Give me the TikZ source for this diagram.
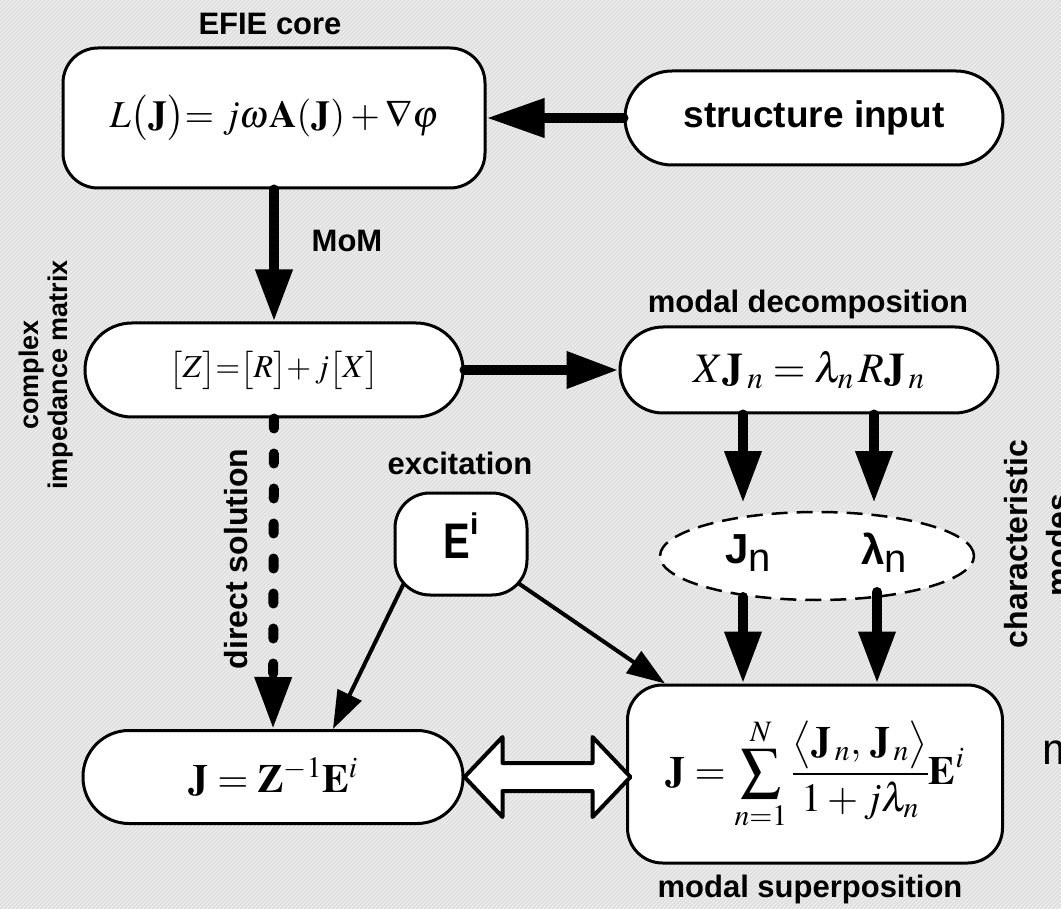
\RequirePackage{fix-cm}
\documentclass[tikz,border=0pt]{standalone}
\usepackage{amsmath}
\usepackage{mathptmx}
\usepackage{fontspec}
\usepackage{graphicx}
\newfontfamily\lsans{Liberation Sans}
\usetikzlibrary{arrows.meta,shapes.geometric,calc}
\pgfdeclarelayer{hatch}
\pgfdeclarelayer{back}
\pgfsetlayers{hatch,back,main}
\definecolor{hatchbg}{HTML}{EFEFEF}
\definecolor{hatchln}{HTML}{DADADA}
\newcommand\myfs[2]{\fontsize{#1}{#2}\selectfont}
\tikzset{
  box/.style={draw, line width=3pt, fill=white, inner sep=0pt},
  fat/.style={line width=10pt, line cap=round, -{Triangle[length=52pt,width=35pt]}},
  thinarr/.style={line width=4pt, -{Triangle[length=38pt,width=26pt]}},
  lbl/.style={font=\lsans\bfseries\myfs{31}{36}, inner sep=0pt},
  rlbl/.style={font=\lsans\bfseries\myfs{27}{31}, inner sep=0pt, rotate=90, anchor=base},
}
\begin{document}
\begin{tikzpicture}[x=1pt,y=-1pt]
\useasboundingbox (0,0) rectangle (1061,909);
\begin{pgfonlayer}{hatch}
  \fill[hatchbg] (0,0) rectangle (1061,909);
  \begin{scope}
    \clip (0,0) rectangle (1061,909);
    \foreach \a in {-912,-908,...,1064}
      \draw[hatchln, line width=1.2pt] (\a,909) -- ({\a+909},0);
  \end{scope}
\end{pgfonlayer}

% boxes
\node[box, rounded corners=35pt, minimum width=422pt, minimum height=140pt] (efie) at (274,118)
  {\myfs{38}{42}$L\bigl(\mathbf{J}\bigr){=}\; j\omega\mathbf{A}(\mathbf{J})+\nabla\varphi$};
\node[box, rounded corners=47pt, minimum width=378pt, minimum height=94pt] (struct) at (814,118)
  {\lsans\bfseries\myfs{37}{42}structure input};
\node[box, rounded corners=47pt, minimum width=378pt, minimum height=94pt] (zmat) at (274,370)
  {\myfs{32}{36}$\bigl[Z\bigr]{=}\bigl[R\bigr]{+}\,j\bigl[X\bigr]$};
\node[box, rounded corners=43pt, minimum width=378pt, minimum height=86pt] (modal) at (809,370)
  {\myfs{42}{46}$X\mathbf{J}_{\,n}=\lambda_n\,R\mathbf{J}_{\,n}$};
\node[box, ellipse, line width=2.5pt, dash pattern=on 16pt off 9pt, minimum width=314pt, minimum height=88pt] (ell) at (817,556) {};
\node[inner sep=0pt] (jn) at (748,553) {\lsans\myfs{42}{46}\textbf{J}\raisebox{-8pt}{\myfs{40}{44}n}};
\node[inner sep=0pt] (lam) at (884,553) {\lsans\myfs{42}{46}\textbf{λ}\raisebox{-8pt}{\myfs{40}{44}n}};
\node[box, rounded corners=35pt, minimum width=375pt, minimum height=178pt] (sup) at (815,774)
  {\myfs{40}{44}$\displaystyle \mathbf{J}=\sum_{n=1}^{N}\frac{\bigl\langle\mathbf{J}_{\,n},\,\mathbf{J}_{\,n}\bigr\rangle}{1+j\lambda_n}\mathbf{E}^i$};
\node[box, rounded corners=46pt, minimum width=380pt, minimum height=93pt] (jz) at (273,777)
  {\myfs{40}{46}$\mathbf{J}=\mathbf{Z}^{-1}\mathbf{E}^i$};
\node[box, rounded corners=35pt, minimum width=132pt, minimum height=102pt, text depth=16pt] (exc) at (461,544)
  {\lsans\bfseries\myfs{50}{54}\scalebox{0.8}[1]{E}\raisebox{24pt}{\myfs{30}{34}i}};

% labels
\node[lbl, anchor=base] (lefie) at (270,35) {EFIE core};
\node[lbl, anchor=base] (lmom) at (347,252) {MoM};
\node[lbl, anchor=base] (lmd) at (808,313) {modal decomposition};
\node[lbl, anchor=base] (lexc) at (460,475) {excitation};
\node[lbl, anchor=base] (lms) at (810,897) {modal superposition};
\node[rlbl] (lcx) at (38,375) {complex};
\node[rlbl] (lim) at (67,375) {impedance matrix};
\node[rlbl, font=\lsans\bfseries\myfs{32}{36}] (lds) at (247,559) {direct solution};
\node[rlbl, font=\lsans\bfseries\myfs{32}{36}] (lch) at (1027,544) {characteristic};
\node[rlbl, font=\lsans\bfseries\myfs{32}{36}] (lmo) at (1069,545) {modes};
\node[inner sep=0pt, anchor=base west] (mcut) at (1042,764) {\lsans\myfs{44}{48}m};

% connectors
\draw[fat, -{Triangle[length=58pt,width=37pt]}] (struct.west) -- (efie.east);
\draw[fat] (efie.south) -- (zmat.north);
\draw[fat] (zmat.east) -- (modal.west);
\draw[fat, dash pattern=on 10pt off 25pt] (zmat.south) -- (jz.north);

\coordinate (t1) at (743,503);
\coordinate (t2) at (874,503);
\coordinate (s1) at (743,597);
\coordinate (s2) at (877,592);
\draw[fat] (modal.south -| t1) -- (t1);
\draw[fat] (modal.south -| t2) -- (t2);
\draw[fat] (s1) -- (sup.north -| s1);
\draw[fat] (s2) -- (sup.north -| s2);

\begin{pgfonlayer}{back}
  \draw[thinarr] ([xshift=-38pt]exc.center) -- ([xshift=60pt]jz.north);
  \draw[thinarr] (exc.center) -- ([xshift=-150pt]sup.north);
\end{pgfonlayer}

\draw[line width=4pt, fill=white, line join=round] (jz.east) -- ++(38,-40) -- ++(0,26) -- ++(90,0)
  -- ++(0,-26) -- ++(38,40) -- ++(-38,40) -- ++(0,-26) -- ++(-90,0) -- ++(0,26) -- cycle;
\end{tikzpicture}
\end{document}
